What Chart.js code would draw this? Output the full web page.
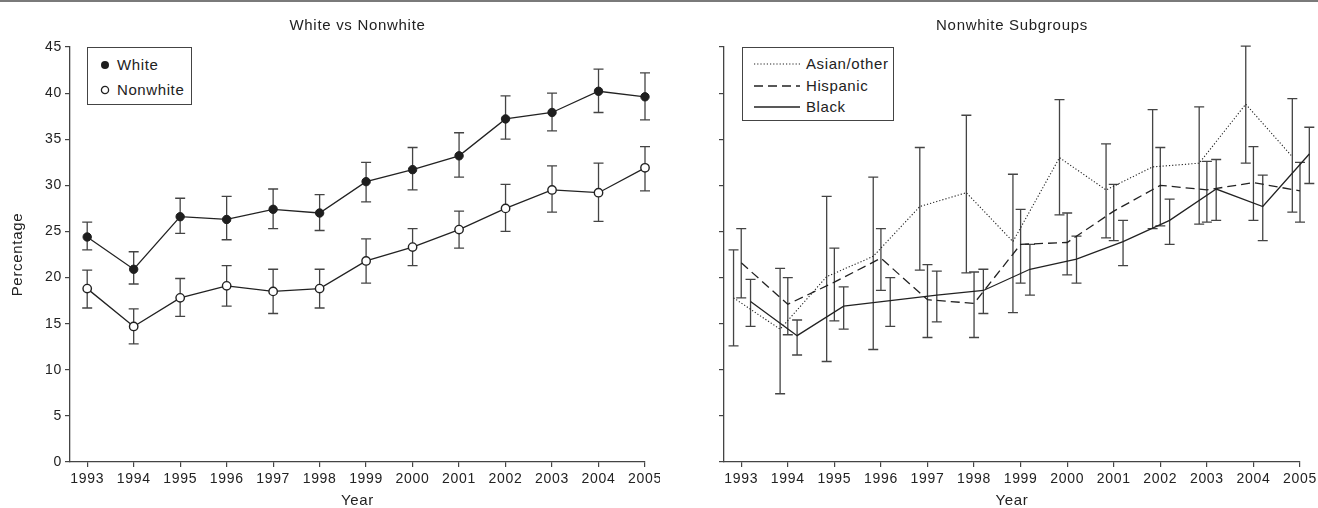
<!DOCTYPE html>
<html>
<head>
<meta charset="utf-8">
<script src="https://cdn.jsdelivr.net/npm/chart.js@4.4.1/dist/chart.umd.min.js"></script>
<style>
  body { margin: 0; background: #fff; width: 1318px; height: 508px; position: relative; overflow: hidden;
         font-family: "Liberation Sans", Arial, sans-serif; color: #222; }
  .topline { position: absolute; left: 0; top: 0; width: 1318px; height: 2px; background: #7a7a7a; }
  canvas { position: absolute; top: 0; }
  #leftChart { left: 0; }
  #rightChart { left: 660px; }
  .legend { position: absolute; box-sizing: border-box; border: 1px solid #444; background: #fff;
            font-size: 15px; letter-spacing: 0.6px; }
  .legend .row { position: absolute; white-space: nowrap; line-height: 18px; }
  .legend svg { position: absolute; }
</style>
</head>
<body>
<div class="topline"></div>
<canvas id="leftChart" width="660" height="508"></canvas>
<canvas id="rightChart" width="658" height="508"></canvas>

<div class="legend" style="left:87px;top:47px;width:105px;height:58px;">
  <svg style="left:11px;top:11px" width="12" height="12"><circle cx="6" cy="6" r="4" fill="#1e1e1e"/></svg>
  <div class="row" style="left:29px;top:8px">White</div>
  <svg style="left:11px;top:36px" width="12" height="12"><circle cx="6" cy="6" r="3.6" fill="#fff" stroke="#222" stroke-width="1.3"/></svg>
  <div class="row" style="left:29px;top:33px">Nonwhite</div>
</div>

<div class="legend" style="left:742px;top:47px;width:152px;height:74px;">
  <svg style="left:11px;top:10px" width="46" height="12"><line x1="0" y1="6" x2="46" y2="6" stroke="#222" stroke-width="1.1" stroke-dasharray="1.2 2"/></svg>
  <div class="row" style="left:63px;top:7px">Asian/other</div>
  <svg style="left:11px;top:32px" width="46" height="12"><line x1="0" y1="6" x2="46" y2="6" stroke="#222" stroke-width="1.3" stroke-dasharray="9 5"/></svg>
  <div class="row" style="left:63px;top:29px">Hispanic</div>
  <svg style="left:11px;top:53px" width="46" height="12"><line x1="0" y1="6" x2="46" y2="6" stroke="#222" stroke-width="1.3"/></svg>
  <div class="row" style="left:63px;top:50px">Black</div>
</div>

<script>
const years = [1993, 1994, 1995, 1996, 1997, 1998, 1999, 2000, 2001, 2002, 2003, 2004, 2005];

// left panel
const whiteVals = [24.4, 20.9, 26.6, 26.3, 27.4, 27.0, 30.4, 31.7, 33.2, 37.2, 37.9, 40.2, 39.6];
const whiteLow  = [23.0, 19.3, 24.8, 24.1, 25.3, 25.1, 28.2, 29.5, 30.9, 35.0, 35.9, 37.9, 37.1];
const whiteHigh = [26.0, 22.8, 28.6, 28.8, 29.6, 29.0, 32.5, 34.1, 35.7, 39.7, 40.0, 42.6, 42.2];

const nonwhiteVals = [18.8, 14.7, 17.8, 19.1, 18.5, 18.8, 21.8, 23.3, 25.2, 27.5, 29.5, 29.2, 31.9];
const nonwhiteLow  = [16.7, 12.8, 15.8, 16.9, 16.1, 16.7, 19.4, 21.3, 23.2, 25.0, 27.1, 26.1, 29.4];
const nonwhiteHigh = [20.8, 16.6, 19.9, 21.3, 20.9, 20.9, 24.2, 25.3, 27.2, 30.1, 32.1, 32.4, 34.2];

// right panel
const asianVals = [17.8, 14.4, 20.1, 22.3, 27.7, 29.2, 23.9, 33.0, 29.5, 32.0, 32.4, 38.8, 33.1];
const asianLow  = [12.6,  7.4, 10.9, 12.2, 20.8, 20.5, 16.2, 26.8, 24.3, 25.3, 25.8, 32.4, 27.1];
const asianHigh = [23.0, 21.0, 28.8, 30.9, 34.1, 37.6, 31.2, 39.3, 34.5, 38.2, 38.5, 45.1, 39.4];

const hispanicVals = [21.6, 17.1, 19.5, 22.1, 17.6, 17.2, 23.6, 23.8, 27.2, 30.0, 29.5, 30.3, 29.4];
const hispanicLow  = [17.8, 13.8, 15.3, 18.6, 13.5, 13.5, 19.4, 20.3, 24.0, 25.6, 26.0, 26.2, 26.0];
const hispanicHigh = [25.3, 20.0, 23.2, 25.3, 21.4, 20.6, 27.4, 27.0, 30.1, 34.1, 32.6, 34.2, 32.5];

const blackVals = [17.4, 13.7, 16.9, 17.5, 18.1, 18.6, 20.9, 22.0, 23.9, 26.2, 29.6, 27.7, 33.4];
const blackLow  = [14.7, 11.6, 14.4, 14.7, 15.2, 16.1, 18.1, 19.4, 21.3, 23.6, 26.2, 24.0, 30.2];
const blackHigh = [19.8, 15.4, 19.0, 20.0, 20.7, 20.9, 23.6, 24.5, 26.2, 28.5, 32.8, 31.1, 36.3];

const leftTitle = 'White vs Nonwhite';
const rightTitle = 'Nonwhite Subgroups';

const FONT = '"Liberation Sans", Arial, sans-serif';
const INK = '#222';

function points(vals, shift) {
  return years.map((yr, i) => ({ x: yr + shift, y: vals[i] }));
}

// vertical error bars with caps, drawn under the lines
const errorBars = {
  id: 'errorBars',
  beforeDatasetsDraw(chart) {
    const { ctx, scales: { x, y } } = chart;
    ctx.save();
    ctx.strokeStyle = '#444';
    ctx.lineWidth = 1.3;
    chart.data.datasets.forEach(ds => {
      if (!ds.low) return;
      ds.data.forEach((pt, i) => {
        const px = x.getPixelForValue(pt.x);
        const top = y.getPixelForValue(ds.high[i]);
        const bot = y.getPixelForValue(ds.low[i]);
        ctx.beginPath();
        ctx.moveTo(px, top); ctx.lineTo(px, bot);
        ctx.moveTo(px - 5, top); ctx.lineTo(px + 5, top);
        ctx.moveTo(px - 5, bot); ctx.lineTo(px + 5, bot);
        ctx.stroke();
      });
    });
    ctx.restore();
  }
};

// panel title centred over the plot area
const panelTitle = {
  id: 'panelTitle',
  beforeDraw(chart) {
    chart.ctx.letterSpacing = '0.7px';
  },
  afterDraw(chart, args, opts) {
    const { ctx, chartArea } = chart;
    ctx.save();
    ctx.font = '15px ' + FONT;
    ctx.fillStyle = INK;
    ctx.textAlign = 'center';
    ctx.textBaseline = 'middle';
    ctx.fillText(opts.text, (chartArea.left + chartArea.right) / 2, 26);
    ctx.restore();
  }
};

function makeScales(yWidth, showYLabels, showYTitle) {
  return {
    x: {
      type: 'linear',
      min: 1992.63,
      max: 2005,
      afterBuildTicks: s => { s.ticks = years.map(v => ({ value: v })); },
      afterFit: s => { s.height = 46; s.paddingLeft = 0; s.paddingRight = 0; },
      ticks: { color: INK, font: { family: FONT, size: 14 }, padding: 4, callback: v => String(v), maxRotation: 0, autoSkip: false },
      grid: { drawOnChartArea: false, tickLength: 5, color: '#444', lineWidth: 1.2 },
      border: { color: '#444', width: 1.3 },
      title: { display: true, text: 'Year', color: INK, font: { family: FONT, size: 15, lineHeight: 1 }, padding: { top: 0, bottom: 0 } }
    },
    y: {
      min: 0,
      max: 45,
      afterFit: s => { s.width = yWidth; },
      ticks: { display: showYLabels, stepSize: 5, color: INK, font: { family: FONT, size: 14 }, padding: 3 },
      grid: { drawOnChartArea: false, tickLength: 5, color: '#444', lineWidth: 1.2 },
      border: { color: '#444', width: 1.3 },
      title: { display: showYTitle, text: 'Percentage', color: INK, font: { family: FONT, size: 15, lineHeight: 1.2 }, padding: { top: 9, bottom: 0 } }
    }
  };
}

const common = {
  responsive: false,
  animation: false,
  devicePixelRatio: 1,
  events: [],
};

new Chart(document.getElementById('leftChart'), {
  type: 'line',
  data: {
    datasets: [
      {
        label: 'White', data: points(whiteVals, 0), low: whiteLow, high: whiteHigh,
        borderColor: INK, borderWidth: 1.3, tension: 0, clip: false,
        pointRadius: 4.2, pointBackgroundColor: '#1e1e1e', pointBorderColor: '#1e1e1e', pointBorderWidth: 1
      },
      {
        label: 'Nonwhite', data: points(nonwhiteVals, 0), low: nonwhiteLow, high: nonwhiteHigh,
        borderColor: INK, borderWidth: 1.3, tension: 0, clip: false,
        pointRadius: 4.2, pointBackgroundColor: '#fff', pointBorderColor: INK, pointBorderWidth: 1.4
      }
    ]
  },
  options: {
    ...common,
    layout: { padding: { top: 47, right: 15, left: 0, bottom: 0 } },
    scales: makeScales(70, true, true),
    plugins: { legend: { display: false }, tooltip: { enabled: false }, title: { display: false }, panelTitle: { text: leftTitle } }
  },
  plugins: [errorBars, panelTitle]
});

new Chart(document.getElementById('rightChart'), {
  type: 'line',
  data: {
    datasets: [
      {
        label: 'Asian/other', data: points(asianVals, -0.165), low: asianLow, high: asianHigh,
        borderColor: INK, borderWidth: 1.1, borderDash: [1.2, 2], tension: 0, pointRadius: 0, clip: false
      },
      {
        label: 'Hispanic', data: points(hispanicVals, 0), low: hispanicLow, high: hispanicHigh,
        borderColor: INK, borderWidth: 1.3, borderDash: [9, 5], tension: 0, pointRadius: 0, clip: false
      },
      {
        label: 'Black', data: points(blackVals, 0.2), low: blackLow, high: blackHigh,
        borderColor: INK, borderWidth: 1.3, tension: 0, pointRadius: 0, clip: false
      }
    ]
  },
  options: {
    ...common,
    layout: { padding: { top: 47, right: 18, left: 0, bottom: 0 } },
    scales: makeScales(64, false, false),
    plugins: { legend: { display: false }, tooltip: { enabled: false }, title: { display: false }, panelTitle: { text: rightTitle } }
  },
  plugins: [errorBars, panelTitle]
});
</script>
</body>
</html>
